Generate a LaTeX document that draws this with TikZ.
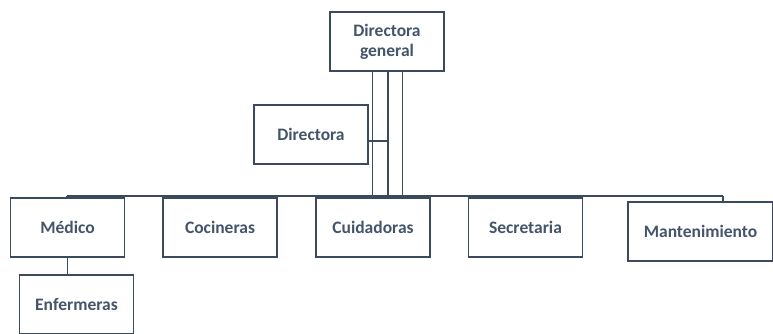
\documentclass[tikz,border=0pt]{standalone}
\usepackage{fontspec}
\setmainfont{Carlito}
\definecolor{ink}{RGB}{68,84,106}
\definecolor{edge}{RGB}{60,74,94}
\begin{document}
\begin{tikzpicture}[x=1pt,y=-1pt,
  box/.style={draw=edge,line width=1.6pt,fill=white,minimum width=114pt,minimum height=59pt,
    inner sep=0pt,align=center,font=\fontsize{17.5}{20}\selectfont\bfseries,text=ink},
  conn/.style={draw=edge,line width=1.2pt},
  thick conn/.style={draw=edge,line width=2.2pt}]
\useasboundingbox (0,0) rectangle (773,333);
% boxes
\node[box] (dg) at (387,41.5) {Directora\\general};
\node[box] (dir) at (311,134.5) {Directora};
\node[box] (med) at (67.5,227.5) {Médico};
\node[box] (coc) at (220,227.5) {Cocineras};
\node[box] (cui) at (373,227.5) {Cuidadoras};
\node[box] (sec) at (525.5,227.5) {Secretaria};
\node[box,minimum width=145pt] (man) at (700.5,231.5) {Mantenimiento};
\node[box] (enf) at (76.5,304.5) {Enfermeras};
% bus
\coordinate (busL) at (67,196);
\coordinate (busR) at (723,196);
\coordinate (jd) at (388,141);
\draw[conn] (busL) -- (busR);
\draw[conn] (busL) -- (med.north -| busL);
\draw[conn] (coc.north) -- (coc.north |- busL);
\draw[conn] (busR) -- (busR |- man.north);
\draw[conn] ([xshift=-14.5pt]dg.south) -- ([xshift=-14.5pt]dg.south |- cui.north);
\draw[conn] ([xshift=15.5pt]dg.south) -- ([xshift=15.5pt]dg.south |- cui.north);
\draw[conn] (jd) -- (jd |- cui.north);
\draw[thick conn] ([xshift=1pt]dg.south) -- (jd);
\draw[conn] (jd) -- (dir.east |- jd);
\draw[conn] (med.south) -- (med.south |- enf.north);
% redraw boxes on top
\node[box] at (dg) {Directora\\general};
\node[box] at (dir) {Directora};
\node[box] at (med) {Médico};
\node[box] at (coc) {Cocineras};
\node[box] at (cui) {Cuidadoras};
\node[box] at (sec) {Secretaria};
\node[box,minimum width=145pt] at (man) {Mantenimiento};
\node[box] at (enf) {Enfermeras};
\end{tikzpicture}
\end{document}
